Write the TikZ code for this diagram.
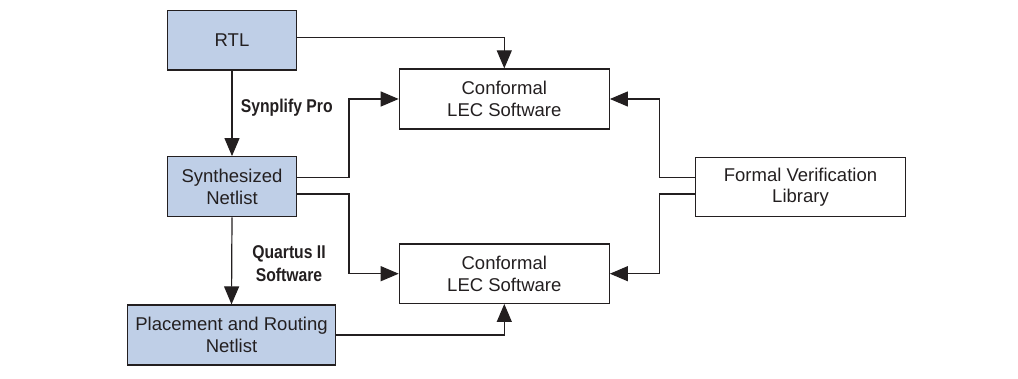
\documentclass[tikz,border=0pt]{standalone}
\usepackage{fontspec}
\setmainfont{Liberation Sans}
\newfontfamily\condfont[FakeStretch=0.85]{Liberation Sans}
\usetikzlibrary{arrows.meta,calc}
\definecolor{boxblue}{RGB}{191,207,231}
\definecolor{ink}{RGB}{35,31,32}
\begin{document}
\begin{tikzpicture}[x=1pt,y=1pt,
  every node/.style={font=\fontsize{18.5}{21.5}\selectfont, text=ink},
  box/.style={draw=ink, line width=1.2pt, minimum height=59.5pt, align=center, inner sep=0pt},
  bluebox/.style={box, fill=boxblue},
  lbl/.style={font=\condfont\bfseries\fontsize{18.5}{23}\selectfont, align=center, inner sep=0pt},
  conn/.style={draw=ink, line width=1.2pt, -{Triangle[length=18pt,width=15pt]}},
  wire/.style={draw=ink, line width=1.2pt}]
\useasboundingbox (0,0) rectangle (1018,-379);
\node[bluebox, minimum width=129.4pt] (rtl) at (232,-40.3) {RTL};
\node[bluebox, minimum width=129.4pt, minimum height=60pt] (syn) at (232,-186.7) {Synthesized\\Netlist};
\node[bluebox, minimum width=208.4pt, minimum height=60pt] (par) at (231.5,-335) {Placement and Routing\\Netlist};
\node[box, minimum width=210pt, minimum height=60pt] (lec1) at (504.3,-99) {Conformal\\LEC Software};
\node[box, minimum width=210pt, minimum height=59.3pt] (lec2) at (504.3,-273.7) {Conformal\\LEC Software};
\node[box, minimum width=209.5pt] (fvl) at (800.5,-187) {Formal Verification\\Library};
\node[lbl, anchor=west] (synp) at (240.7,-108) {Synplify Pro};
\node[lbl] (quart) at (289,-263.5) {Quartus II\\Software};
\coordinate (rtlout) at ($(rtl.east)+(0,3)$);
\coordinate (synup) at ($(syn.east)+(0,9.4)$);
\coordinate (synlo) at ($(syn.east)+(0,-7.3)$);
\coordinate (fvlup) at ($(fvl.west)+(0,9.3)$);
\coordinate (fvllo) at ($(fvl.west)+(0,-7)$);
\coordinate (jl1) at (349,-177.3);
\coordinate (jl2) at (349,-194);
\coordinate (jr1) at (659.3,-177.7);
\coordinate (jr2) at (659.3,-194);
\draw[conn] (rtlout) -| (lec1.north);
\draw[conn] (rtl.south) -- (syn.north);
\draw[conn] (syn.south) -- (par.north);
\draw[conn] (synup) -- (jl1) |- (lec1.west);
\draw[conn] (synlo) -- (jl2) |- (lec2.west);
\draw[conn] (par.east) -| (lec2.south);
\draw[conn] (fvlup) -- (jr1) |- (lec1.east);
\draw[conn] (fvllo) -- (jr2) |- (lec2.east);
\end{tikzpicture}
\end{document}
